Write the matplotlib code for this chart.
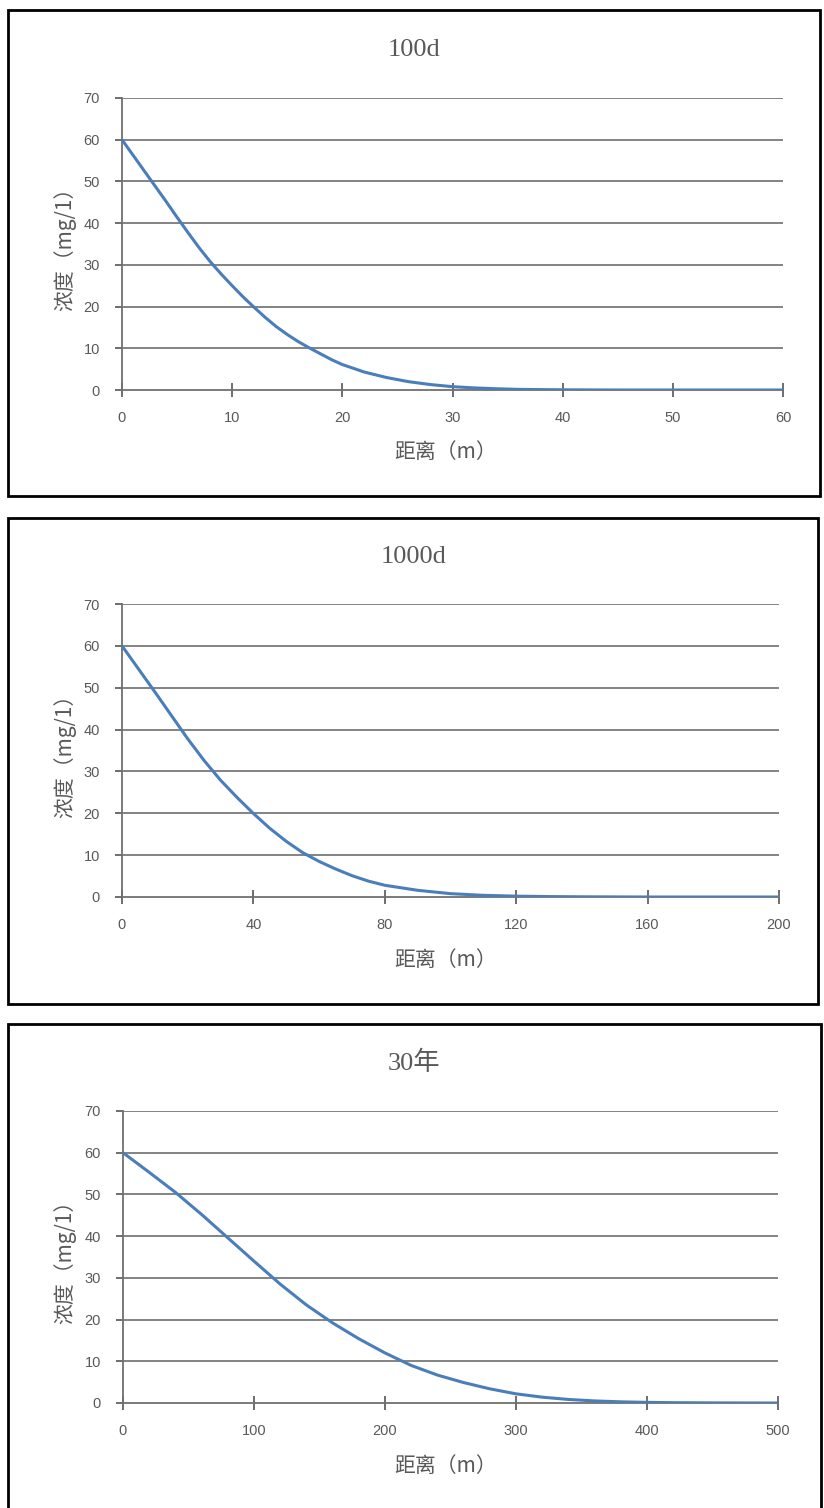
import matplotlib
matplotlib.use("Agg")
import matplotlib.pyplot as plt
from matplotlib.patches import Rectangle

plt.rcParams['font.family'] = ['Noto Sans CJK SC', 'DejaVu Sans']

# 100d
x_100d = [0, 1, 2, 3, 4, 5, 6, 7, 8, 9, 10, 11, 12, 13, 14, 15, 16, 17, 18, 19, 20,
          22, 24, 26, 28, 30, 32, 34, 36, 40, 45, 50, 55, 60]
c_100d = [60, 56.3, 52.6, 48.9, 45.2, 41.4, 37.7, 34.1, 30.8, 27.8, 25.0, 22.3, 19.8, 17.4,
          15.2, 13.3, 11.6, 10.1, 8.7, 7.3, 6.1, 4.3, 3.0, 2.0, 1.3, 0.8, 0.5, 0.3, 0.15,
          0.05, 0, 0, 0, 0]

# 1000d
x_1000d = [0, 5, 10, 15, 20, 25, 30, 35, 40, 45, 50, 55, 60, 65, 70, 75, 80, 90, 100,
           110, 120, 130, 140, 160, 180, 200]
c_1000d = [60, 54.5, 49.0, 43.4, 37.8, 32.6, 27.9, 23.8, 19.95, 16.4, 13.3, 10.6, 8.5,
           6.7, 5.1, 3.8, 2.8, 1.6, 0.8, 0.4, 0.2, 0.1, 0.05, 0, 0, 0]

# 30年
x_30y = [0, 20, 40, 60, 80, 100, 120, 140, 160, 180, 200, 220, 240, 260, 280, 300, 320,
         340, 360, 380, 400, 420, 450, 500]
c_30y = [60, 55.3, 50.5, 45.2, 39.6, 34.0, 28.5, 23.5, 19.2, 15.4, 12.0, 9.0, 6.7, 4.9,
         3.4, 2.2, 1.4, 0.85, 0.5, 0.28, 0.15, 0.08, 0.03, 0]

titles = ["100d", "1000d", "30年"]
xlabel = "距离（m）"
ylabel = "浓度（mg/1）"
yticks = [0, 10, 20, 30, 40, 50, 60, 70]
xticks_list = [[0, 10, 20, 30, 40, 50, 60],
               [0, 40, 80, 120, 160, 200],
               [0, 100, 200, 300, 400, 500]]

W, H = 824, 1508
fig = plt.figure(figsize=(W / 100, H / 100), dpi=100)

# pixel layout: axes (left, right, top, bottom), frame (l, t, r, b), title y, xlabel y
axes_px = [(122, 783, 98, 390), (122, 779, 604, 897), (123, 778, 1111, 1403)]
frames_px = [(8, 10, 820, 496), (8, 518, 818, 1004), (8, 1024, 821, 1512)]
title_y = [50, 557, 1063]
xlab_y = [452, 960, 1466]

text_col = '#595959'
grid_col = '#7a7a7a'
line_col = '#4a7ebb'

data = [(x_100d, c_100d), (x_1000d, c_1000d), (x_30y, c_30y)]

for i in range(3):
    l, r, t, b = axes_px[i]
    ax = fig.add_axes([l / W, 1 - b / H, (r - l) / W, (b - t) / H])
    xs, ys = data[i]
    ax.plot(xs, ys, color=line_col, lw=2.2, solid_capstyle='round',
            solid_joinstyle='round', zorder=3)
    xt = xticks_list[i]
    ax.set_xlim(xt[0], xt[-1])
    ax.set_ylim(0, 70)
    ax.set_xticks(xt)
    ax.set_yticks(yticks)
    for y in yticks[1:]:
        ax.axhline(y, color=grid_col, lw=1.3, zorder=1)
    for s in ['top', 'right']:
        ax.spines[s].set_visible(False)
    ax.spines['left'].set_color('#707070')
    ax.spines['bottom'].set_color('#707070')
    ax.spines['left'].set_linewidth(1.3)
    ax.spines['bottom'].set_linewidth(1.3)
    ax.tick_params(axis='x', direction='inout', length=10, width=1.2, color='#555555',
                   pad=10, labelsize=10.5, labelcolor=text_col)
    ax.tick_params(axis='y', direction='out', length=5, width=1.2, color='#555555',
                   pad=11, labelsize=10.5, labelcolor=text_col)
    for lab in ax.get_xticklabels() + ax.get_yticklabels():
        lab.set_family(['Liberation Sans Narrow', 'Liberation Sans', 'DejaVu Sans'])
    ax.set_facecolor('none')

    fl, ft, fr, fb = frames_px[i]
    fig.add_artist(Rectangle((fl / W, 1 - fb / H), (fr - fl) / W, (fb - ft) / H,
                             transform=fig.transFigure, fill=False, ec='black', lw=2))
    fig.text(414 / W, 1 - title_y[i] / H, titles[i], ha='center', va='center',
             fontsize=19, color=text_col,
             family=['Liberation Serif', 'Noto Sans CJK SC'])
    fig.text(446 / W, 1 - xlab_y[i] / H, xlabel, ha='center', va='center',
             fontsize=15, color=text_col)
    fig.text(65 / W, 1 - (t + b) / 2 / H, ylabel, ha='center', va='center',
             rotation=90, fontsize=15, color=text_col)

fig.savefig("out.png", dpi=100)
